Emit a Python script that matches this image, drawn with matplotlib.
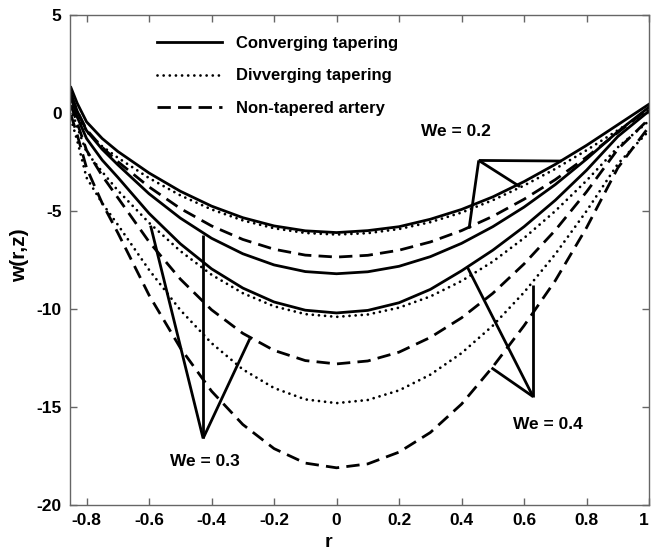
import matplotlib
matplotlib.use("Agg")
import matplotlib.pyplot as plt

plt.rcParams["font.family"] = ["Liberation Sans", "DejaVu Sans"]
plt.rcParams["font.weight"] = "bold"
plt.rcParams["axes.unicode_minus"] = False

# radial coordinate
r = [-0.85, -0.83, -0.8, -0.75, -0.7, -0.6, -0.5, -0.4, -0.3, -0.2, -0.1, 0.0,
     0.1, 0.2, 0.3, 0.4, 0.5, 0.6, 0.7, 0.8, 0.9, 1.0]

# Converging tapering (solid)
conv_we02 = [1.3, 0.5, -0.45, -1.3, -1.96, -3.06, -3.99, -4.75, -5.34, -5.76, -6.01, -6.1,
             -6.0, -5.8, -5.42, -4.92, -4.28, -3.5, -2.62, -1.65, -0.6, 0.45]
conv_we03 = [1.0, 0.1, -0.9, -1.85, -2.64, -4.12, -5.36, -6.39, -7.18, -7.75, -8.09, -8.2,
             -8.1, -7.82, -7.33, -6.65, -5.8, -4.8, -3.65, -2.35, -0.95, 0.3]
conv_we04 = [0.8, -0.2, -1.3, -2.4, -3.28, -5.12, -6.67, -7.95, -8.93, -9.64, -10.06, -10.2,
             -10.07, -9.68, -9.0, -8.05, -7.0, -5.8, -4.45, -2.92, -1.2, 0.1]

# Diverging tapering (dotted)
div_we02 = [0.6, -0.1, -0.95, -1.7, -2.28, -3.32, -4.20, -4.92, -5.48, -5.88, -6.12, -6.2,
            -6.13, -5.92, -5.57, -5.08, -4.45, -3.7, -2.85, -1.9, -0.88, 0.15]
div_we03 = [0.2, -0.7, -2.0, -3.0, -3.95, -5.6, -7.04, -8.25, -9.19, -9.86, -10.26, -10.4,
            -10.28, -9.93, -9.36, -8.57, -7.58, -6.38, -5.0, -3.45, -1.75, -0.4]
div_we04 = [-0.3, -1.4, -3.3, -4.6, -5.7, -8.0, -10.05, -11.74, -13.08, -14.03, -14.61, -14.8,
            -14.64, -14.15, -13.35, -12.25, -10.85, -9.15, -7.2, -5.0, -2.6, -0.9]

# Non-tapered artery (dashed)
non_we02 = [0.9, 0.1, -0.85, -1.75, -2.48, -3.77, -4.87, -5.76, -6.45, -6.95, -7.25, -7.35,
            -7.26, -7.0, -6.58, -6.0, -5.27, -4.4, -3.4, -2.25, -1.0, 0.25]
non_we03 = [0.4, -0.5, -1.9, -3.2, -4.32, -6.57, -8.47, -10.04, -11.24, -12.11, -12.63, -12.8,
            -12.65, -12.2, -11.45, -10.45, -9.2, -7.7, -5.98, -4.02, -1.85, -0.3]
non_we04 = [-0.1, -1.1, -2.8, -4.6, -6.11, -9.29, -11.98, -14.19, -15.89, -17.12, -17.86, -18.1,
            -17.9, -17.3, -16.3, -14.85, -12.95, -10.85, -8.55, -5.85, -2.8, -0.7]

legend_labels = ["Converging tapering", "Divverging tapering", "Non-tapered artery"]
x_ticks = [-0.8, -0.6, -0.4, -0.2, 0, 0.2, 0.4, 0.6, 0.8, 1]
x_tick_labels = ["-0.8", "-0.6", "-0.4", "-0.2", "0", "0.2", "0.4", "0.6", "0.8", "1"]
y_ticks = [5, 0, -5, -10, -15, -20]

fig = plt.figure(figsize=(6.51, 5.55), dpi=100)
ax = fig.add_axes([0.1075, 0.090, 0.8895, 0.883])

lw = 2.0
solid_kw = dict(color="black", lw=lw, linestyle="-")
dot_kw = dict(color="black", lw=lw, linestyle=(0, (0.01, 2.2)), dash_capstyle="round")
dash_kw = dict(color="black", lw=lw, linestyle=(0, (4.8, 2.6)))

h1, = ax.plot(r, conv_we02, **solid_kw)
ax.plot(r, conv_we03, **solid_kw)
ax.plot(r, conv_we04, **solid_kw)
h2, = ax.plot(r, div_we02, **dot_kw)
ax.plot(r, div_we03, **dot_kw)
ax.plot(r, div_we04, **dot_kw)
h3, = ax.plot(r, non_we02, **dash_kw)
ax.plot(r, non_we03, **dash_kw)
ax.plot(r, non_we04, **dash_kw)

# annotation pointer lines (apex -> targets)
pointers = [
    ((0.455, -2.42), [(0.424, -5.9), (0.72, -2.45), (0.587, -3.76)]),
    ((-0.427, -16.6), [(-0.595, -5.75), (-0.427, -6.2), (-0.277, -11.5)]),
    ((0.629, -14.47), [(0.629, -8.78), (0.418, -7.84), (0.496, -13.0)]),
]
for (px0, py0), targets in pointers:
    for tx, ty in targets:
        ax.plot([px0, tx], [py0, ty], color="black", lw=2.0, solid_capstyle="butt")

ax.text(0.382, -0.95, "We = 0.2", ha="center", va="center", fontsize=12.5, fontweight="bold")
ax.text(-0.421, -17.8, "We = 0.3", ha="center", va="center", fontsize=12.5, fontweight="bold")
ax.text(0.677, -15.9, "We = 0.4", ha="center", va="center", fontsize=12.5, fontweight="bold")

ax.set_xlim(-0.853, 1.0)
ax.set_ylim(-20, 5)
ax.set_xticks(x_ticks)
ax.set_xticklabels(x_tick_labels)
ax.get_xticklabels()[-1].set_horizontalalignment("right")
ax.set_yticks(y_ticks)
ax.tick_params(direction="in", length=5, width=1, color="#666666",
               top=True, right=True, labelsize=12.5, pad=6)
for s in ax.spines.values():
    s.set_color("#666666")
    s.set_linewidth(1.0)

ax.set_xlabel("r", fontsize=14, fontweight="bold")
ax.xaxis.set_label_coords(0.4456, -0.06)
ax.set_ylabel("w(r,z)", fontsize=15, fontweight="bold")
ax.yaxis.set_label_coords(-0.07, 0.51)

leg = ax.legend([h1, h2, h3], legend_labels, loc="upper left",
                bbox_to_anchor=(0.150, 0.958), frameon=False, fontsize=12,
                handlelength=3.9, handletextpad=0.84, labelspacing=1.07,
                borderpad=0, borderaxespad=0)
for t in leg.get_texts():
    t.set_fontweight("bold")

fig.savefig("out.png", dpi=100)
